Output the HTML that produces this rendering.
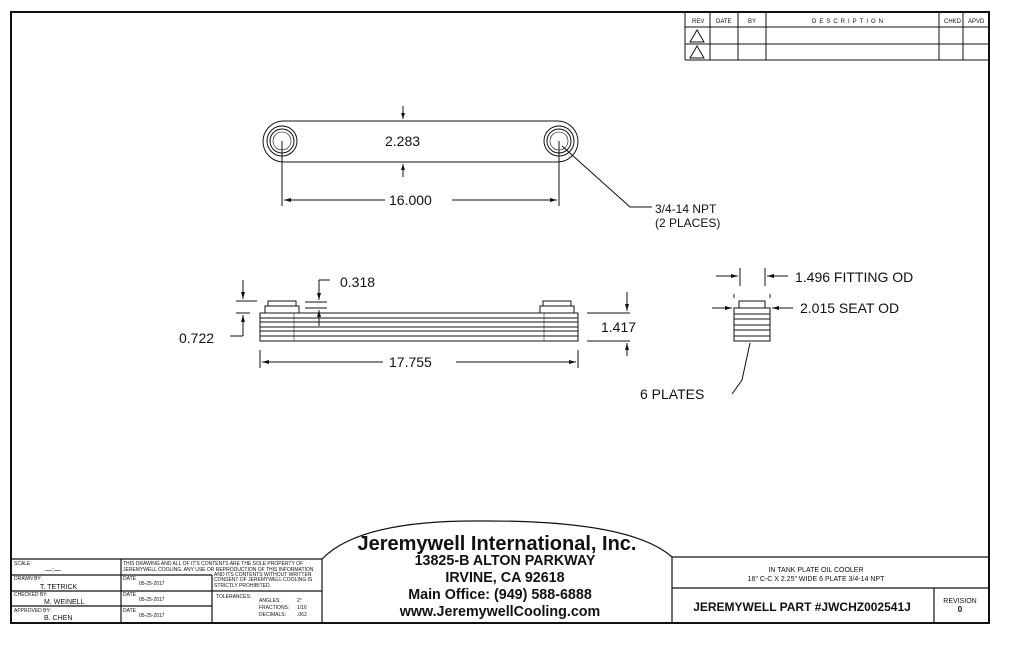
<!DOCTYPE html>
<html><head><meta charset="utf-8"><style>
body{margin:0;background:#fff;}
svg{display:block;}
text{font-family:"Liberation Sans",sans-serif;fill:#111;}
</style></head><body>
<svg width="1024" height="665" viewBox="0 0 1024 665" xmlns="http://www.w3.org/2000/svg">
<g stroke="#111" fill="none">
<rect x="11" y="12" width="978" height="611" stroke-width="2"/>
<g stroke-width="1">
<line x1="685" y1="12" x2="685" y2="60"/>
<line x1="685" y1="27" x2="989" y2="27"/>
<line x1="685" y1="44" x2="989" y2="44"/>
<line x1="685" y1="60" x2="989" y2="60"/>
<line x1="710" y1="12" x2="710" y2="60"/>
<line x1="738" y1="12" x2="738" y2="60"/>
<line x1="766" y1="12" x2="766" y2="60"/>
<line x1="939" y1="12" x2="939" y2="60"/>
<line x1="963" y1="12" x2="963" y2="60"/>
<polygon points="697,30 690,42 704,42"/>
<polygon points="697,46 690,58 704,58"/>
</g>
<rect x="263" y="121" width="315" height="41" rx="20.5" stroke-width="1"/>
<circle cx="282" cy="141" r="15"/><circle cx="282" cy="141" r="12"/><circle cx="282" cy="141" r="9" stroke-width="0.6"/>
<circle cx="559" cy="141" r="15"/><circle cx="559" cy="141" r="12"/><circle cx="559" cy="141" r="9" stroke-width="0.6"/>
<line x1="282" y1="141" x2="282" y2="206"/>
<line x1="559" y1="141" x2="559" y2="206"/>
<line x1="284" y1="200" x2="385" y2="200"/>
<line x1="452" y1="200" x2="557" y2="200"/>
<line x1="403" y1="106" x2="403" y2="119"/>
<line x1="403" y1="164" x2="403" y2="177"/>
<polyline points="562,146 630,207 652,207"/>
<g stroke-width="1">
<rect x="260" y="313" width="318" height="28"/>
<line x1="260" y1="318" x2="578" y2="318"/>
<line x1="260" y1="322" x2="578" y2="322"/>
<line x1="260" y1="327" x2="578" y2="327"/>
<line x1="260" y1="331" x2="578" y2="331"/>
<line x1="260" y1="336" x2="578" y2="336"/>
<line x1="294" y1="313" x2="294" y2="341" stroke-width="0.5"/>
<line x1="544" y1="313" x2="544" y2="341" stroke-width="0.5"/>
<rect x="265" y="306" width="34" height="7"/>
<rect x="268" y="301" width="28" height="5"/>
<rect x="540" y="306" width="34" height="7"/>
<rect x="543" y="301" width="28" height="5"/>
<line x1="236" y1="301" x2="257" y2="301"/>
<line x1="236" y1="313" x2="250" y2="313"/>
<line x1="243" y1="280" x2="243" y2="299"/>
<line x1="243" y1="315" x2="243" y2="336"/>
<line x1="230" y1="336" x2="243" y2="336"/>
<line x1="305" y1="302" x2="327" y2="302"/>
<line x1="305" y1="308" x2="327" y2="308"/>
<line x1="319" y1="280" x2="319" y2="300"/>
<line x1="319" y1="280" x2="330" y2="280"/>
<line x1="319" y1="310" x2="319" y2="326"/>
<line x1="587" y1="313" x2="630" y2="313"/>
<line x1="587" y1="341" x2="630" y2="341"/>
<line x1="627" y1="292" x2="627" y2="311"/>
<line x1="627" y1="343" x2="627" y2="356"/>
<line x1="260" y1="350" x2="260" y2="368"/>
<line x1="578" y1="350" x2="578" y2="368"/>
<line x1="262" y1="362" x2="383" y2="362"/>
<line x1="456" y1="362" x2="576" y2="362"/>
</g>
<g stroke-width="1">
<rect x="734" y="308" width="36" height="33"/>
<line x1="734" y1="314" x2="770" y2="314"/>
<line x1="734" y1="319" x2="770" y2="319"/>
<line x1="734" y1="325" x2="770" y2="325"/>
<line x1="734" y1="330" x2="770" y2="330"/>
<line x1="734" y1="336" x2="770" y2="336"/>
<rect x="739" y="301" width="26" height="7"/>
<line x1="740" y1="268" x2="740" y2="286"/>
<line x1="765" y1="268" x2="765" y2="286"/>
<line x1="716" y1="276" x2="738" y2="276"/>
<line x1="767" y1="276" x2="788" y2="276"/>
<line x1="734" y1="294" x2="734" y2="298"/>
<line x1="770" y1="294" x2="770" y2="298"/>
<line x1="712" y1="308" x2="732" y2="308"/>
<line x1="772" y1="308" x2="793" y2="308"/>
<polyline points="750,343 742,380 732,394"/>
</g>
<g stroke-width="1.2">
<line x1="11" y1="559" x2="322" y2="559"/>
<line x1="11" y1="575" x2="121" y2="575"/>
<line x1="11" y1="591" x2="212" y2="591"/>
<line x1="11" y1="606" x2="212" y2="606"/>
<line x1="121" y1="559" x2="121" y2="623"/>
<line x1="212" y1="575" x2="212" y2="623"/>
<line x1="121" y1="575" x2="212" y2="575"/>
<line x1="212" y1="591" x2="322" y2="591"/>
<line x1="322" y1="559" x2="322" y2="623"/>
<path d="M322,559 Q360,520 480,521 Q630,520 672,557"/>
<line x1="672" y1="557" x2="989" y2="557"/>
<line x1="672" y1="557" x2="672" y2="623"/>
<line x1="672" y1="588" x2="989" y2="588"/>
<line x1="934" y1="588" x2="934" y2="623"/>
</g>
</g>
<g fill="#111">
<polygon points="403,119 401,113 405,113"/><polygon points="403,164 401,170 405,170"/>
<polygon points="284,200 291,198 291,202"/><polygon points="557,200 550,198 550,202"/>
<polygon points="243,299 241,292 245,292"/><polygon points="243,315 241,322 245,322"/>
<polygon points="319,300 317,293 321,293"/><polygon points="319,310 317,317 321,317"/>
<polygon points="627,311 625,304 629,304"/><polygon points="627,343 625,350 629,350"/>
<polygon points="262,362 269,360 269,364"/><polygon points="576,362 569,360 569,364"/>
<polygon points="738,276 731,274 731,278"/><polygon points="767,276 774,274 774,278"/>
<polygon points="732,308 725,306 725,310"/><polygon points="772,308 779,306 779,310"/>
</g>
<g font-size="6">
<text x="692" y="23">REV</text><text x="716" y="23">DATE</text><text x="748" y="23">BY</text>
<text x="812" y="23" letter-spacing="3">DESCRIPTION</text><text x="944" y="23">CHKD</text><text x="968" y="23">APVD</text>
</g>
<g font-size="14" style="fill:#333">
<text x="385" y="146">2.283</text>
<text x="389" y="205">16.000</text>
<text x="340" y="287">0.318</text>
<text x="179" y="343">0.722</text>
<text x="601" y="332">1.417</text>
<text x="389" y="367">17.755</text>
<text x="795" y="282">1.496 FITTING OD</text>
<text x="800" y="313">2.015 SEAT OD</text>
<text x="640" y="399">6 PLATES</text>
<text x="655" y="213" font-size="12">3/4-14 NPT</text>
<text x="655" y="227" font-size="12">(2 PLACES)</text>
</g>
<g font-size="5">
<text x="14" y="565">SCALE</text><text x="45" y="572" font-size="7">—:—</text>
<text x="14" y="580">DRAWN BY:</text><text x="40" y="589" font-size="7">T. TETRICK</text>
<text x="14" y="596">CHECKED BY:</text><text x="44" y="604" font-size="7">M. WEINELL</text>
<text x="14" y="612">APPROVED BY:</text><text x="44" y="620" font-size="7">B. CHEN</text>
<text x="123" y="565">THIS DRAWING AND ALL OF IT'S CONTENTS ARE THE SOLE PROPERTY OF</text>
<text x="123" y="571">JEREMYWELL COOLING. ANY USE OR REPRODUCTION OF THIS INFORMATION</text>
<text x="214" y="576">AND ITS CONTENTS WITHOUT WRITTEN</text>
<text x="214" y="581">CONSENT OF JEREMYWELL COOLING IS</text>
<text x="214" y="587">STRICTLY PROHIBITED.</text>
<text x="123" y="580">DATE</text><text x="139" y="585">05-25-2017</text>
<text x="123" y="596">DATE</text><text x="139" y="601">05-25-2017</text>
<text x="123" y="612">DATE</text><text x="139" y="617">05-25-2017</text>
<text x="216" y="598">TOLERANCES:</text>
<text x="259" y="602">ANGLES:</text><text x="297" y="602">2°</text>
<text x="259" y="609">FRACTIONS:</text><text x="297" y="609">1/16</text>
<text x="259" y="616">DECIMALS:</text><text x="297" y="616">.062</text>
</g>
<g text-anchor="middle" font-weight="bold">
<text x="497" y="550" font-size="20">Jeremywell International, Inc.</text>
<text x="505" y="565" font-size="14.3">13825-B ALTON PARKWAY</text>
<text x="505" y="582" font-size="14.3">IRVINE, CA 92618</text>
<text x="500" y="599" font-size="14.3">Main Office: (949) 588-6888</text>
<text x="500" y="616" font-size="14.3">www.JeremywellCooling.com</text>
<text x="816" y="572" font-size="7" font-weight="normal">IN TANK PLATE OIL COOLER</text>
<text x="816" y="581" font-size="7" font-weight="normal">16" C-C X 2.25" WIDE 6 PLATE 3/4-14 NPT</text>
<text x="802" y="611" font-size="12">JEREMYWELL PART #JWCHZ002541J</text>
<text x="960" y="603" font-size="7" font-weight="normal">REVISION</text>
<text x="960" y="612" font-size="8">0</text>
</g>
</svg>
</body></html>
